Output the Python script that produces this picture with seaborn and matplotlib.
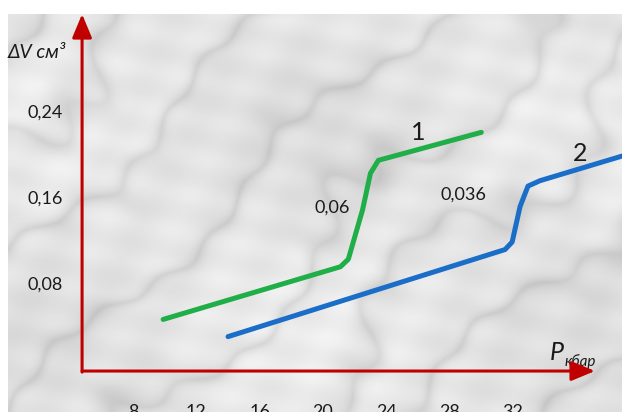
"""
Volume jump vs pressure for two samples, drawn over a light marble-like backdrop.
Saves out.png (622x412).
"""

import matplotlib

matplotlib.use("Agg")
import matplotlib.pyplot as plt
import numpy as np
import pandas as pd
import seaborn as sns

sns.set_theme(style="white")
plt.rcParams["font.family"] = ["Lato", "DejaVu Sans"]

# curve 1 (green) and curve 2 (blue), pressure in kbar, volume change in cm^3
P1 = [9.9, 21.1, 21.6, 22.5, 23.0, 23.5, 30.0]
V1 = [0.048, 0.097, 0.104, 0.150, 0.184, 0.196, 0.222]
P2 = [14.0, 31.5, 31.95, 32.45, 32.95, 33.7, 38.9]
V2 = [0.032, 0.113, 0.120, 0.153, 0.172, 0.177, 0.200]

x_ticks = [8, 12, 16, 20, 24, 28, 32]
y_ticks = [0.08, 0.16, 0.24]
y_tick_labels = ["0,08", "0,16", "0,24"]

RED = "#c00000"
GREEN = "#1fae48"
BLUE = "#1a6ec8"
INK = "#1a1a1a"

XLIM = (0.10, 38.89)
YLIM = (-0.0381, 0.3321)
ORIGIN = (4.78, 0.0)
X_TIP = 37.18
Y_TIP = 0.332


def marble(ax, nx=320, ny=210):
    # soft deterministic pattern standing in for the marble photo
    X, Y = np.meshgrid(np.linspace(0, 1, nx), np.linspace(0, 1, ny))
    t = (X * 6 - Y * 4 + 0.35 * np.sin(X * 9 + Y * 5)
         + 0.2 * np.sin(X * 21 - Y * 15) + 0.1 * np.sin(X * 43 + Y * 29))
    veins = (1 - np.abs(np.sin(t * 2.3))) ** 3
    blobs = 0.5 + 0.5 * np.sin(X * 7 + 1.3) * np.sin(Y * 6 + 0.4)
    mottle = np.sin(X * 37 + Y * 23) * np.sin(X * 17 - Y * 41)
    gray = 0.93 - 0.09 * veins - 0.06 * blobs - 0.025 * mottle
    ax.imshow(gray, cmap="gray", vmin=0, vmax=1, origin="lower", aspect="auto",
              extent=(*XLIM, *YLIM), zorder=0, interpolation="bilinear")


def main() -> None:
    fig = plt.figure(figsize=(6.22, 4.12), dpi=100, facecolor="white")
    ax = fig.add_axes([8 / 622, 0, 614 / 622, 398 / 412])
    marble(ax)

    df = pd.concat([
        pd.DataFrame({"P": P1, "V": V1, "curve": "1"}),
        pd.DataFrame({"P": P2, "V": V2, "curve": "2"}),
    ])
    sns.lineplot(data=df, x="P", y="V", hue="curve", palette=[GREEN, BLUE],
                 sort=False, estimator=None, legend=False, linewidth=3.6, ax=ax,
                 zorder=3)

    # red axes with arrowheads
    arrow = dict(arrowstyle="-|>,head_length=1.2,head_width=0.5", color=RED,
                 lw=2.2, mutation_scale=12, shrinkA=0, shrinkB=0)
    ax.annotate("", xy=(X_TIP, ORIGIN[1]), xytext=ORIGIN, arrowprops=arrow,
                annotation_clip=False, zorder=4)
    ax.annotate("", xy=(ORIGIN[0], Y_TIP), xytext=(ORIGIN[0], ORIGIN[1] - 0.001),
                arrowprops=arrow, annotation_clip=False, zorder=4)

    # tick labels drawn inside the picture (the x row is cut by the bottom edge)
    for x in x_ticks:
        ax.text(x, -0.0305, str(x), ha="center", va="top", fontsize=13, color=INK)
    for y, lab in zip(y_ticks, y_tick_labels):
        ax.text(2.45, y, lab, ha="center", va="center", fontsize=13, color=INK)

    # axis titles
    ax.text(0.05, 0.2967, "ΔV см³", ha="left", va="center", fontsize=14,
            style="italic", color=INK, clip_on=False)
    ax.text(34.3, 0.0175, "P", ha="left", va="center", fontsize=18,
            style="italic", color=INK)
    ax.text(35.25, 0.0090, "кбар", ha="left", va="center", fontsize=11,
            style="italic", color=INK)

    # curve numbers and jump sizes
    ax.text(26.0, 0.222, "1", ha="center", va="center", fontsize=18, color=INK)
    ax.text(36.24, 0.202, "2", ha="center", va="center", fontsize=18, color=INK)
    ax.text(20.55, 0.1516, "0,06", ha="center", va="center", fontsize=13, color=INK)
    ax.text(28.85, 0.1637, "0,036", ha="center", va="center", fontsize=13, color=INK)

    ax.set_xlim(*XLIM)
    ax.set_ylim(*YLIM)
    ax.set_axis_off()
    fig.savefig("out.png", dpi=100, facecolor="white")
    plt.close(fig)


if __name__ == "__main__":
    main()
